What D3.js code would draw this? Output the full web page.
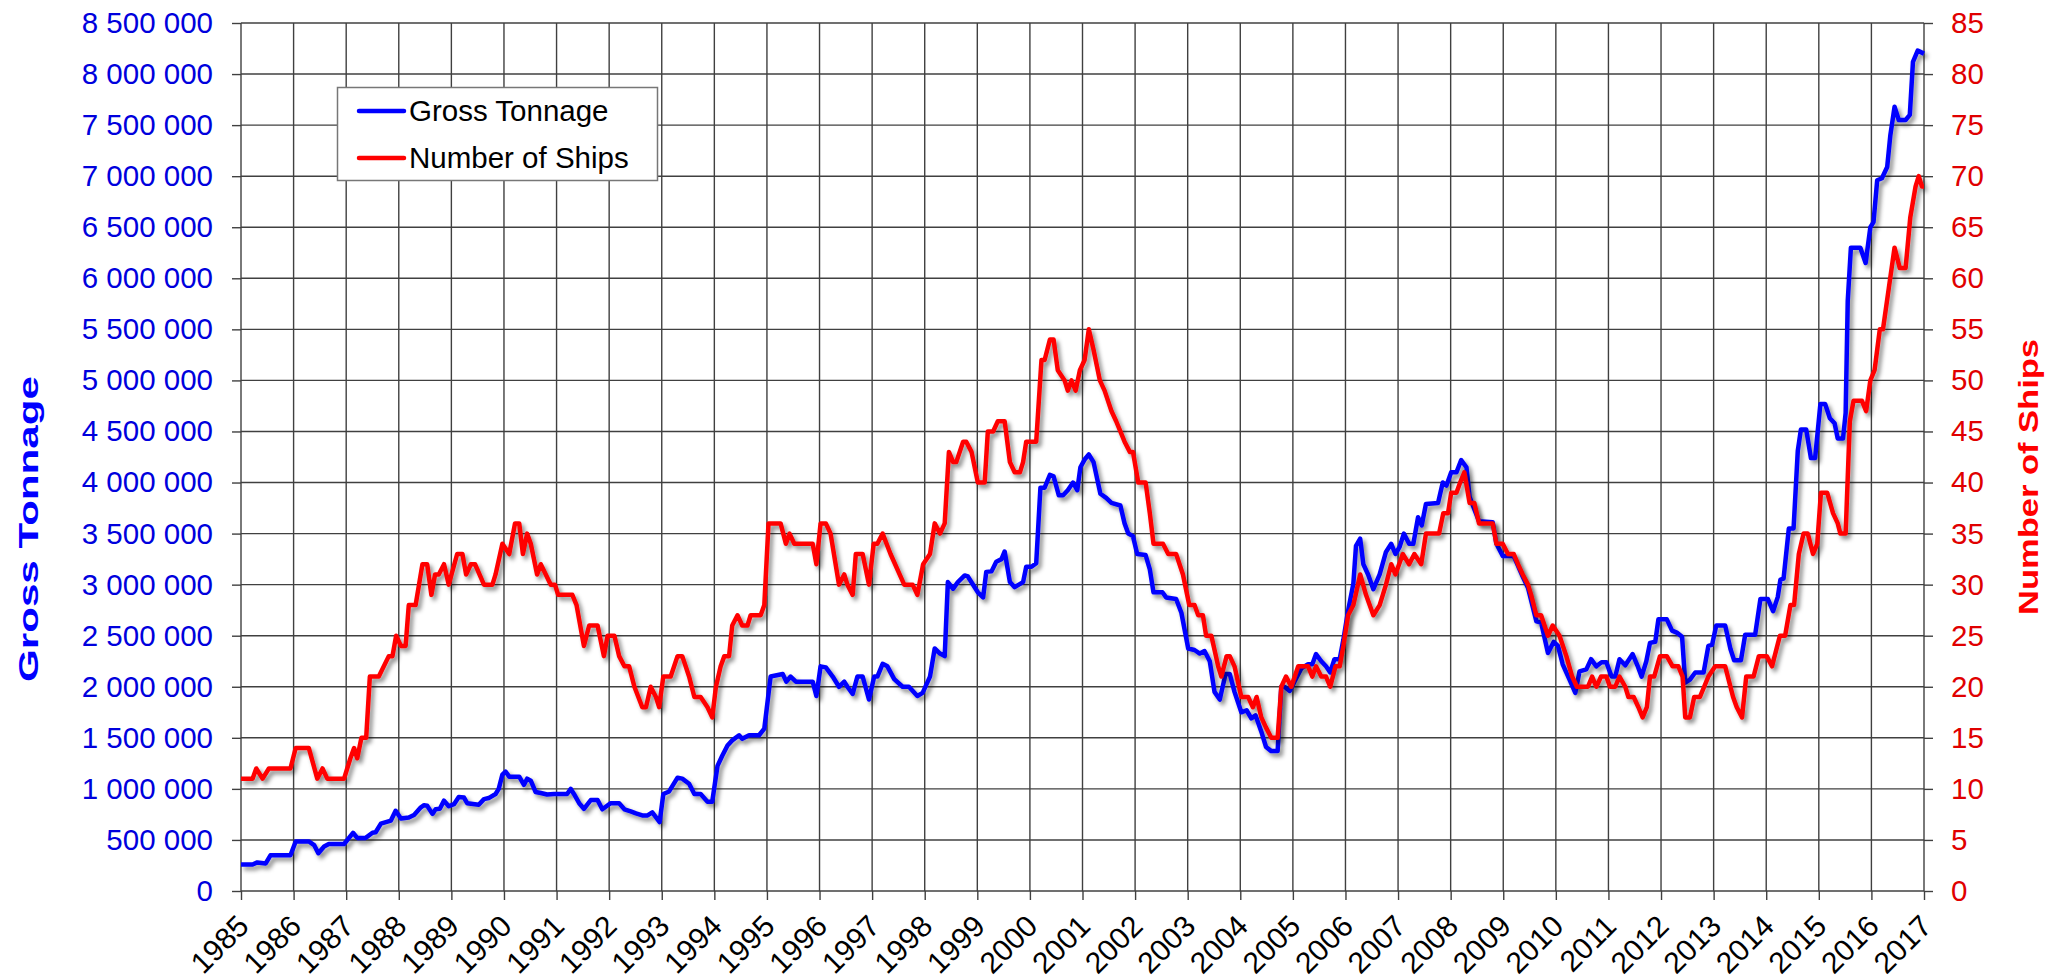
<!DOCTYPE html>
<html>
<head>
<meta charset="utf-8">
<script src="https://cdn.jsdelivr.net/npm/d3@7"></script>
<style>
  body { margin: 0; background: #fff; }
  svg { display: block; font-family: "Liberation Sans", Arial, sans-serif; }
</style>
</head>
<body>
<div id="container"></div>
<script>
/* CONSTANTS AND GLOBALS */
const width = 2072;
const height = 978;
const margin = {top: 23, right: 148, bottom: 87, left: 241};

/* DATA */
const years = [1985, 1986, 1987, 1988, 1989, 1990, 1991, 1992, 1993, 1994, 1995, 1996, 1997, 1998, 1999, 2000,
  2001, 2002, 2003, 2004, 2005, 2006, 2007, 2008, 2009, 2010, 2011, 2012, 2013, 2014, 2015, 2016, 2017];
const tonnageTicks = [0, 500000, 1000000, 1500000, 2000000, 2500000, 3000000, 3500000, 4000000, 4500000,
  5000000, 5500000, 6000000, 6500000, 7000000, 7500000, 8000000, 8500000];
const shipTicks = [0, 5, 10, 15, 20, 25, 30, 35, 40, 45, 50, 55, 60, 65, 70, 75, 80, 85];
const seriesNames = ["Gross Tonnage", "Number of Ships"];

// gross tonnage
const tonnageDates = [1985.00, 1985.22, 1985.31, 1985.47, 1985.56, 1985.94, 1986.04, 1986.29, 1986.39, 1986.47,
  1986.58, 1986.67, 1986.96, 1987.13, 1987.21, 1987.37, 1987.50, 1987.56, 1987.66, 1987.85, 1987.94, 1988.04,
  1988.19, 1988.29, 1988.42, 1988.48, 1988.54, 1988.64, 1988.70, 1988.78, 1988.86, 1988.95, 1989.05, 1989.14,
  1989.24, 1989.30, 1989.52, 1989.62, 1989.71, 1989.84, 1989.90, 1989.97, 1990.03, 1990.10, 1990.29, 1990.38,
  1990.44, 1990.51, 1990.60, 1990.70, 1990.82, 1990.95, 1991.20, 1991.27, 1991.33, 1991.43, 1991.52, 1991.65,
  1991.78, 1991.87, 1992.03, 1992.19, 1992.29, 1992.41, 1992.51, 1992.63, 1992.73, 1992.82, 1992.96, 1993.03,
  1993.14, 1993.30, 1993.39, 1993.52, 1993.62, 1993.74, 1993.87, 1993.96, 1994.06, 1994.15, 1994.25, 1994.34,
  1994.47, 1994.53, 1994.66, 1994.85, 1994.95, 1995.07, 1995.30, 1995.37, 1995.45, 1995.55, 1995.87, 1995.94,
  1996.02, 1996.12, 1996.25, 1996.37, 1996.47, 1996.53, 1996.63, 1996.72, 1996.82, 1996.94, 1997.04, 1997.10,
  1997.20, 1997.29, 1997.42, 1997.58, 1997.70, 1997.86, 1997.96, 1998.10, 1998.19, 1998.29, 1998.38, 1998.44,
  1998.54, 1998.63, 1998.76, 1998.82, 1999.01, 1999.11, 1999.17, 1999.27, 1999.36, 1999.46, 1999.52, 1999.62,
  1999.71, 1999.87, 1999.93, 2000.03, 2000.12, 2000.20, 2000.28, 2000.38, 2000.45, 2000.55, 2000.63, 2000.72,
  2000.82, 2000.90, 2000.96, 2001.04, 2001.12, 2001.21, 2001.34, 2001.45, 2001.55, 2001.72, 2001.80, 2001.87,
  2001.96, 2002.04, 2002.20, 2002.28, 2002.35, 2002.52, 2002.59, 2002.78, 2002.88, 2003.01, 2003.13, 2003.23,
  2003.32, 2003.42, 2003.51, 2003.61, 2003.72, 2003.80, 2003.89, 2004.02, 2004.12, 2004.21, 2004.29, 2004.40,
  2004.49, 2004.59, 2004.71, 2004.78, 2004.84, 2004.94, 2005.03, 2005.16, 2005.29, 2005.37, 2005.44, 2005.54,
  2005.63, 2005.71, 2005.79, 2005.89, 2005.96, 2006.05, 2006.15, 2006.20, 2006.28, 2006.34, 2006.43, 2006.53,
  2006.65, 2006.77, 2006.87, 2006.95, 2007.03, 2007.11, 2007.21, 2007.29, 2007.38, 2007.45, 2007.53, 2007.76,
  2007.85, 2007.92, 2008.01, 2008.11, 2008.20, 2008.30, 2008.36, 2008.54, 2008.80, 2008.87, 2008.99, 2009.20,
  2009.37, 2009.47, 2009.63, 2009.72, 2009.85, 2009.96, 2010.04, 2010.13, 2010.26, 2010.37, 2010.45, 2010.58,
  2010.67, 2010.77, 2010.87, 2010.96, 2011.06, 2011.13, 2011.21, 2011.32, 2011.46, 2011.55, 2011.63, 2011.72,
  2011.79, 2011.89, 2011.95, 2012.11, 2012.21, 2012.30, 2012.40, 2012.46, 2012.55, 2012.65, 2012.81, 2012.90,
  2012.97, 2013.05, 2013.22, 2013.32, 2013.39, 2013.52, 2013.60, 2013.79, 2013.89, 2014.03, 2014.13, 2014.22,
  2014.27, 2014.33, 2014.43, 2014.52, 2014.60, 2014.66, 2014.76, 2014.85, 2014.93, 2015.03, 2015.12, 2015.21,
  2015.30, 2015.36, 2015.46, 2015.51, 2015.55, 2015.61, 2015.79, 2015.89, 2015.98, 2016.04, 2016.11, 2016.20,
  2016.30, 2016.36, 2016.44, 2016.52, 2016.65, 2016.73, 2016.79, 2016.88, 2016.96, 2017.00];
const tonnageValues = [260000, 260000, 280000, 270000, 350000, 350000, 485000, 485000, 450000, 370000,
  435000, 460000, 460000, 570000, 520000, 520000, 570000, 575000, 660000, 690000, 785000, 710000,
  720000, 745000, 820000, 840000, 835000, 755000, 800000, 805000, 885000, 830000, 850000, 920000,
  915000, 860000, 845000, 900000, 910000, 950000, 1000000, 1140000, 1170000, 1120000, 1120000, 1040000,
  1100000, 1080000, 970000, 960000, 945000, 950000, 950000, 1000000, 950000, 860000, 805000, 890000,
  890000, 800000, 860000, 860000, 800000, 780000, 760000, 740000, 740000, 770000, 675000, 950000,
  975000, 1110000, 1100000, 1050000, 950000, 950000, 875000, 875000, 1225000, 1325000, 1425000, 1475000,
  1525000, 1490000, 1525000, 1525000, 1590000, 2100000, 2125000, 2050000, 2100000, 2050000, 2050000, 1910000,
  2200000, 2190000, 2100000, 2000000, 2050000, 2000000, 1930000, 2100000, 2100000, 1875000, 2100000, 2100000,
  2225000, 2200000, 2075000, 2000000, 2000000, 1910000, 1940000, 2100000, 2375000, 2325000, 2300000, 3025000,
  2960000, 3025000, 3090000, 3080000, 2925000, 2875000, 3125000, 3130000, 3225000, 3250000, 3325000, 3025000,
  2975000, 3025000, 3175000, 3175000, 3210000, 3950000, 3950000, 4075000, 4060000, 3875000, 3875000, 3925000,
  4000000, 3925000, 4150000, 4225000, 4275000, 4200000, 3890000, 3850000, 3800000, 3775000, 3600000, 3500000,
  3475000, 3300000, 3290000, 3150000, 2925000, 2925000, 2875000, 2860000, 2725000, 2375000, 2360000, 2325000,
  2350000, 2250000, 1950000, 1875000, 2125000, 2125000, 1950000, 1750000, 1770000, 1690000, 1720000, 1560000,
  1410000, 1370000, 1370000, 2000000, 2000000, 1960000, 2050000, 2180000, 2220000, 2220000, 2320000, 2250000,
  2200000, 2140000, 2270000, 2270000, 2460000, 2745000, 3010000, 3380000, 3450000, 3200000, 3100000, 2955000,
  3100000, 3320000, 3400000, 3300000, 3370000, 3500000, 3400000, 3400000, 3660000, 3580000, 3790000, 3800000,
  4000000, 3970000, 4100000, 4100000, 4220000, 4150000, 3860000, 3620000, 3610000, 3400000, 3280000, 3280000,
  3080000, 2970000, 2640000, 2630000, 2330000, 2440000, 2400000, 2220000, 2070000, 1940000, 2150000, 2170000,
  2270000, 2200000, 2240000, 2240000, 2100000, 2100000, 2270000, 2210000, 2320000, 2210000, 2100000, 2250000,
  2430000, 2440000, 2660000, 2660000, 2550000, 2530000, 2490000, 2040000, 2070000, 2140000, 2140000, 2400000,
  2410000, 2600000, 2600000, 2370000, 2260000, 2260000, 2510000, 2510000, 2860000, 2860000, 2740000, 2880000,
  3050000, 3060000, 3550000, 3550000, 4310000, 4520000, 4520000, 4240000, 4240000, 4770000, 4770000, 4630000,
  4580000, 4430000, 4430000, 4680000, 5780000, 6300000, 6300000, 6150000, 6500000, 6550000, 6960000, 6980000,
  7090000, 7400000, 7680000, 7550000, 7550000, 7600000, 8120000, 8230000, 8210000, 8200000];

// number of ships
const shipDates = [1985.00, 1985.22, 1985.29, 1985.41, 1985.53, 1985.94, 1986.04, 1986.29, 1986.45, 1986.55,
  1986.64, 1986.96, 1987.08, 1987.15, 1987.21, 1987.29, 1987.38, 1987.45, 1987.62, 1987.81, 1987.88, 1987.95,
  1988.04, 1988.13, 1988.19, 1988.32, 1988.45, 1988.54, 1988.62, 1988.69, 1988.76, 1988.86, 1988.95, 1989.11,
  1989.21, 1989.28, 1989.37, 1989.45, 1989.62, 1989.78, 1989.84, 1989.97, 1990.10, 1990.21, 1990.29, 1990.36,
  1990.44, 1990.51, 1990.63, 1990.70, 1990.89, 1990.97, 1991.03, 1991.30, 1991.38, 1991.52, 1991.62, 1991.78,
  1991.90, 1991.97, 1992.10, 1992.19, 1992.29, 1992.38, 1992.48, 1992.63, 1992.70, 1992.79, 1992.89, 1992.95,
  1993.03, 1993.17, 1993.30, 1993.39, 1993.52, 1993.62, 1993.74, 1993.87, 1993.96, 1994.03, 1994.12, 1994.19,
  1994.28, 1994.34, 1994.44, 1994.53, 1994.63, 1994.69, 1994.88, 1994.95, 1995.03, 1995.26, 1995.36, 1995.43,
  1995.52, 1995.87, 1995.94, 1996.02, 1996.12, 1996.21, 1996.37, 1996.47, 1996.53, 1996.63, 1996.69, 1996.82,
  1996.94, 1997.03, 1997.10, 1997.20, 1997.35, 1997.61, 1997.77, 1997.86, 1997.97, 1998.10, 1998.19, 1998.29,
  1998.38, 1998.46, 1998.54, 1998.60, 1998.73, 1998.79, 1998.89, 1999.01, 1999.14, 1999.20, 1999.30, 1999.39,
  1999.52, 1999.62, 1999.71, 1999.81, 1999.87, 1999.93, 2000.03, 2000.12, 2000.22, 2000.28, 2000.38, 2000.45,
  2000.53, 2000.66, 2000.72, 2000.79, 2000.87, 2000.95, 2001.04, 2001.12, 2001.21, 2001.33, 2001.42, 2001.55,
  2001.64, 2001.72, 2001.80, 2001.90, 2001.96, 2002.06, 2002.20, 2002.28, 2002.35, 2002.53, 2002.63, 2002.78,
  2002.91, 2003.03, 2003.13, 2003.20, 2003.29, 2003.35, 2003.45, 2003.58, 2003.64, 2003.74, 2003.80, 2003.89,
  2004.02, 2004.15, 2004.24, 2004.31, 2004.40, 2004.49, 2004.59, 2004.71, 2004.78, 2004.87, 2004.97, 2005.10,
  2005.19, 2005.29, 2005.37, 2005.44, 2005.54, 2005.63, 2005.71, 2005.81, 2005.89, 2005.96, 2006.05, 2006.15,
  2006.28, 2006.39, 2006.53, 2006.65, 2006.77, 2006.87, 2006.95, 2007.09, 2007.21, 2007.31, 2007.44, 2007.53,
  2007.78, 2007.86, 2007.95, 2008.01, 2008.11, 2008.18, 2008.26, 2008.36, 2008.45, 2008.54, 2008.80, 2008.87,
  2008.99, 2009.09, 2009.20, 2009.28, 2009.37, 2009.47, 2009.53, 2009.63, 2009.72, 2009.85, 2009.94, 2010.07,
  2010.20, 2010.31, 2010.40, 2010.61, 2010.69, 2010.77, 2010.86, 2010.96, 2011.03, 2011.13, 2011.21, 2011.32,
  2011.38, 2011.48, 2011.57, 2011.65, 2011.73, 2011.79, 2011.87, 2011.98, 2012.11, 2012.22, 2012.33, 2012.41,
  2012.46, 2012.55, 2012.63, 2012.74, 2012.82, 2012.90, 2013.03, 2013.22, 2013.37, 2013.44, 2013.54, 2013.62,
  2013.76, 2013.86, 2014.01, 2014.11, 2014.26, 2014.36, 2014.46, 2014.53, 2014.62, 2014.71, 2014.79, 2014.89,
  2014.97, 2015.04, 2015.16, 2015.27, 2015.36, 2015.41, 2015.51, 2015.59, 2015.66, 2015.82, 2015.90, 2015.98,
  2016.06, 2016.16, 2016.22, 2016.33, 2016.44, 2016.54, 2016.65, 2016.74, 2016.84, 2016.90, 2016.96, 2017.00];
const shipValues = [11, 11, 12, 11, 12, 12, 14, 14, 11, 12,
  11, 11, 13, 14, 13, 15, 15, 21, 21, 23, 23, 25,
  24, 24, 28, 28, 32, 32, 29, 31, 31, 32, 30, 33,
  33, 31, 32, 32, 30, 30, 31, 34, 33, 36, 36, 33,
  35, 34, 31, 32, 30, 30, 29, 29, 28, 24, 26, 26,
  23, 25, 25, 23, 22, 22, 20, 18, 18, 20, 19, 18,
  21, 21, 23, 23, 21, 19, 19, 18, 17, 20, 22, 23,
  23, 26, 27, 26, 26, 27, 27, 28, 36, 36, 34, 35,
  34, 34, 32, 36, 36, 35, 30, 31, 30, 29, 33, 33,
  30, 34, 34, 35, 33, 30, 30, 29, 32, 33, 36, 35,
  36, 43, 42, 42, 44, 44, 43, 40, 40, 45, 45, 46,
  46, 42, 41, 41, 42, 44, 44, 44, 52, 52, 54, 54,
  51, 50, 49, 50, 49, 51, 52, 55, 53, 50, 49, 47,
  46, 45, 44, 43, 43, 40, 40, 37, 34, 34, 33, 33,
  31, 28, 28, 27, 27, 25, 25, 22, 21, 23, 23, 22,
  19, 19, 18, 19, 17, 16, 15, 15, 20, 21, 20, 22,
  22, 22, 21, 22, 21, 21, 20, 22, 22, 24, 27, 28,
  31, 29, 27, 28, 30, 32, 31, 33, 32, 33, 32, 35,
  35, 37, 37, 39, 39, 40, 41, 38, 38, 36, 36, 34,
  34, 33, 33, 32, 31, 30, 29, 27, 27, 25, 26, 25,
  23, 21, 20, 20, 21, 20, 21, 21, 20, 20, 21, 20,
  19, 19, 18, 17, 18, 21, 21, 23, 23, 22, 22, 21,
  17, 17, 19, 19, 20, 21, 22, 22, 19, 18, 17, 21,
  21, 23, 23, 22, 25, 25, 28, 28, 33, 35, 35, 33,
  34, 39, 39, 37, 36, 35, 35, 46, 48, 48, 47, 50,
  51, 55, 55, 59, 63, 61, 61, 66, 69, 70, 69, 69];

const tonnage = tonnageDates.map((d, i) => ({date: d, value: tonnageValues[i]}));
const ships = shipDates.map((d, i) => ({date: d, value: shipValues[i]}));

const blue = "#0000ff";
const red = "#ff0000";
const blueText = "#0000dd";
const redText = "#e00000";
const gridColor = "#404040";

/* SCALES */
const xScale = d3.scaleLinear()
  .domain([1985, 2017])
  .range([margin.left, width - margin.right]);

const yLeft = d3.scaleLinear()
  .domain([0, 8500000])
  .range([height - margin.bottom, margin.top]);

const yRight = d3.scaleLinear()
  .domain([0, 85])
  .range([height - margin.bottom, margin.top]);

/* HTML ELEMENTS */
const svg = d3.select("#container")
  .append("svg")
    .attr("width", width)
    .attr("height", height);

const filter = svg.append("defs").append("filter")
  .attr("id", "shadow")
  .attr("x", "-5%").attr("y", "-5%")
  .attr("width", "110%").attr("height", "110%");
filter.append("feDropShadow")
  .attr("dx", 3).attr("dy", 3.5)
  .attr("stdDeviation", 2)
  .attr("flood-color", "#000")
  .attr("flood-opacity", 0.45);

// grid
const grid = svg.append("g")
  .attr("stroke", gridColor)
  .attr("stroke-width", 1.4);
grid.selectAll("line.v")
  .data(years)
  .join("line")
    .attr("class", "v")
    .attr("x1", d => xScale(d))
    .attr("x2", d => xScale(d))
    .attr("y1", margin.top)
    .attr("y2", height - margin.bottom);
grid.selectAll("line.h")
  .data(tonnageTicks)
  .join("line")
    .attr("class", "h")
    .attr("x1", margin.left)
    .attr("x2", width - margin.right)
    .attr("y1", d => yLeft(d))
    .attr("y2", d => yLeft(d));

// axes
const fmt = d => d3.format(",")(d).replace(/,/g, " ");

const leftAxis = svg.append("g")
  .attr("transform", `translate(${margin.left},0)`)
  .call(d3.axisLeft(yLeft).tickValues(tonnageTicks).tickFormat(fmt).tickSize(9).tickPadding(19));
leftAxis.selectAll("text")
  .attr("fill", blueText)
  .style("font-size", "29.5px");

const rightAxis = svg.append("g")
  .attr("transform", `translate(${width - margin.right},0)`)
  .call(d3.axisRight(yRight).tickValues(shipTicks).tickSize(9).tickPadding(18));
rightAxis.selectAll("text")
  .attr("fill", redText)
  .style("font-size", "29.5px");

const bottomAxis = svg.append("g")
  .attr("transform", `translate(0,${height - margin.bottom})`)
  .call(d3.axisBottom(xScale).tickValues(years).tickFormat(d3.format("d")).tickSize(9));
bottomAxis.selectAll("text")
  .attr("y", 0).attr("dy", 0)
  .attr("transform", "translate(9,37) rotate(-45)")
  .style("text-anchor", "end")
  .style("font-size", "30px")
  .attr("fill", "#000");

[leftAxis, rightAxis, bottomAxis].forEach(a => {
  a.select(".domain").remove();
  a.selectAll("line").attr("stroke", gridColor).attr("stroke-width", 1.4);
});

// axis titles
svg.append("text")
  .attr("transform", `translate(38,529) rotate(-90)`)
  .attr("text-anchor", "middle")
  .attr("textLength", 306)
  .attr("lengthAdjust", "spacingAndGlyphs")
  .attr("fill", blue)
  .style("font-weight", "bold")
  .style("font-size", "28px")
  .text(seriesNames[0]);

svg.append("text")
  .attr("transform", `translate(2038,477) rotate(-90)`)
  .attr("text-anchor", "middle")
  .attr("textLength", 276)
  .attr("lengthAdjust", "spacingAndGlyphs")
  .attr("fill", red)
  .style("font-weight", "bold")
  .style("font-size", "28px")
  .text(seriesNames[1]);

// lines
const lineLeft = d3.line().x(d => xScale(d.date)).y(d => yLeft(d.value));
const lineRight = d3.line().x(d => xScale(d.date)).y(d => yRight(d.value));

svg.append("path")
  .datum(tonnage)
  .attr("d", lineLeft)
  .attr("fill", "none")
  .attr("stroke", blue)
  .attr("stroke-width", 4.5)
  .attr("stroke-linejoin", "round")
  .attr("filter", "url(#shadow)");

svg.append("path")
  .datum(ships)
  .attr("d", lineRight)
  .attr("fill", "none")
  .attr("stroke", red)
  .attr("stroke-width", 4.5)
  .attr("stroke-linejoin", "round")
  .attr("filter", "url(#shadow)");

// legend
const legend = svg.append("g");
legend.append("rect")
  .attr("x", 337.5).attr("y", 87.5)
  .attr("width", 320).attr("height", 93)
  .attr("fill", "#fff")
  .attr("stroke", "#777")
  .attr("stroke-width", 1.5);

legend.selectAll("g.item")
  .data(seriesNames)
  .join("g")
    .attr("class", "item")
    .attr("transform", (d, i) => `translate(0,${111 + i * 47})`)
    .each(function(d, i) {
      const g = d3.select(this);
      g.append("line")
        .attr("x1", 359).attr("x2", 404)
        .attr("stroke", i === 0 ? blue : red)
        .attr("stroke-width", 4.5)
        .attr("stroke-linecap", "round");
      g.append("text")
        .attr("x", 409).attr("y", 10)
        .style("font-size", "29.5px")
        .attr("fill", "#000")
        .text(d);
    });
</script>
</body>
</html>
